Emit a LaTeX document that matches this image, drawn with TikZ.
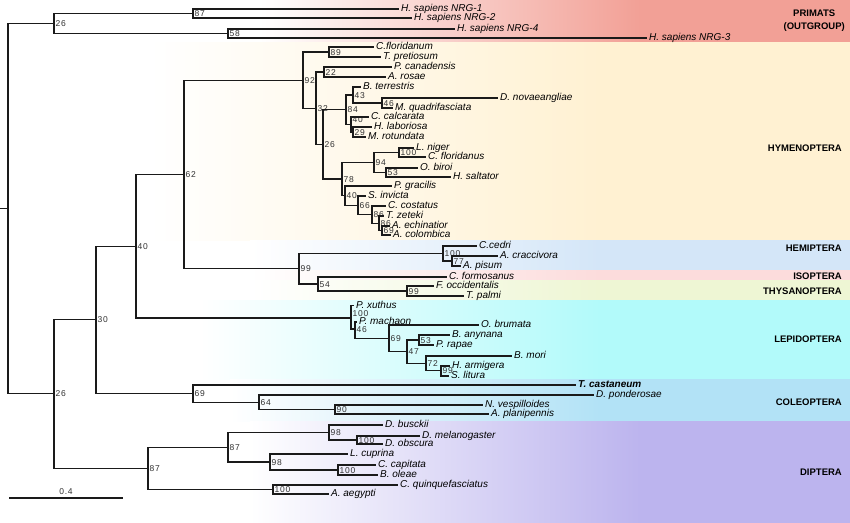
\documentclass[tikz,border=0pt]{standalone}
\usepackage{fontspec}
\setmainfont{Liberation Sans}
\newfontfamily\bsfont[LetterSpace=8]{Liberation Sans}

\definecolor{primats}{HTML}{F2A096}
\definecolor{hymeno}{HTML}{FFF1D2}
\definecolor{hemi}{HTML}{D4E6F8}
\definecolor{iso}{HTML}{FCDCDC}
\definecolor{thysa}{HTML}{EEF6D4}
\definecolor{lepido}{HTML}{B2FAFA}
\definecolor{coleo}{HTML}{B2E2F6}
\definecolor{diptera}{HTML}{BCB4EE}
\definecolor{treeline}{HTML}{1A1A1A}

\tikzset{
  leaf/.style={anchor=west,inner sep=2pt,text height=7pt,text depth=2pt,
    font=\fontsize{10}{11}\selectfont\itshape},
  boot/.style={anchor=west,inner sep=1.5pt,text height=6pt,text depth=0pt,
    font=\fontsize{8.5}{9}\bsfont,text=black!80},
  order/.style={anchor=east,inner sep=0pt,align=center,
    font=\fontsize{9.5}{13}\selectfont\bfseries},
  branch/.style={to path={|- (\tikztotarget)}}
}

\begin{document}
\begin{tikzpicture}[x=1pt,y=-1pt]
\useasboundingbox (0,0) rectangle (850,522);

% coloured bands of the orders
\shade[left color=white,right color=primats] (260,-1) rectangle (640,42);
\fill[primats] (639,-1) rectangle (852,42);
\shade[left color=white,right color=hymeno] (150,42) rectangle (600,240);
\fill[hymeno] (599,42) rectangle (852,240);
\shade[left color=white,right color=hemi] (250,240) rectangle (600,270);
\fill[hemi] (599,240) rectangle (852,270);
\shade[left color=white,right color=iso] (250,270) rectangle (600,280);
\fill[iso] (599,270) rectangle (852,280);
\shade[left color=white,right color=thysa] (250,280) rectangle (600,300);
\fill[thysa] (599,280) rectangle (852,300);
\shade[left color=white,right color=lepido] (200,300) rectangle (600,379);
\fill[lepido] (599,300) rectangle (852,379);
\shade[left color=white,right color=coleo] (230,379) rectangle (600,421);
\fill[coleo] (599,379) rectangle (852,421);
\shade[left color=white,right color=diptera] (250,421) rectangle (640,524);
\fill[diptera] (639,421) rectangle (852,524);

\coordinate (stub) at (0,208.75);
\coordinate (root) at (8,208.75);
\coordinate (sb0) at (9,498);
\coordinate (sb1) at (123,498);

% inner nodes with their bootstrap values
\begin{scope}[every node/.style={boot}]
  \node (p26) at (54,23.5) {26};
  \node (p87) at (193,13.5) {87};
  \node (p58) at (228,33.5) {58};

  \node (n26) at (54,393.9) {26};
  \node (n30) at (96,319.8) {30};
  \node (n40) at (136,246.1) {40};
  \node (n62) at (184,174.25) {62};

  \node (h92) at (303,80.1) {92};
  \node (h89) at (329,52) {89};
  \node (h32) at (316,108.25) {32};
  \node (h22) at (324,72) {22};
  \node (h26) at (323,144.5) {26};
  \node (h84) at (346,109.75) {84};
  \node (h43) at (353,95) {43};
  \node (h46) at (382,103) {46};
  \node[anchor=south west] (h40) at (351,124.5) {40};
  \node (h29) at (353,132) {29};
  \node (h78) at (342,179) {78};
  \node (h94) at (374,162.5) {94};
  \node (h100) at (399,152.5) {100};
  \node (h53) at (386,172.5) {53};
  \node (h40b) at (345,195.6) {40};
  \node (h66) at (358,205.25) {66};
  \node (h86a) at (372,214.5) {86};
  \node (h86b) at (379,223.25) {86};
  \node (h69) at (382,230.5) {69};

  \node (m99) at (299,268.75) {99};
  \node (m100) at (443,253.5) {100};
  \node (m77) at (452,261) {77};
  \node (m54) at (318,284) {54};
  \node (m99b) at (407,291) {99};

  \node[anchor=south west] (l100) at (351,318) {100};
  \node (l46) at (355,329) {46};
  \node (l69) at (389,338.25) {69};
  \node (l47) at (407,351.5) {47};
  \node (l53) at (419,340) {53};
  \node (l72) at (426,363.25) {72};
  \node (l99) at (441,370.5) {99};

  \node (c69) at (193,393.5) {69};
  \node (c64) at (259,402.25) {64};
  \node (c90) at (335,409.5) {90};

  \node (d87) at (148,468.25) {87};
  \node (d87b) at (228,447.25) {87};
  \node (d98a) at (329,432.5) {98};
  \node (d100a) at (357,440) {100};
  \node (d98b) at (270,462) {98};
  \node (d100b) at (338,470) {100};
  \node (d100c) at (273,489.5) {100};

  \node[anchor=south] (sbl) at (66,496.5) {0.4};
\end{scope}

% species
\begin{scope}[every node/.style={leaf}]
  \node (nrg1) at (399,9) {H. sapiens NRG-1};
  \node (nrg2) at (412,18) {H. sapiens NRG-2};
  \node (nrg4) at (455,29) {H. sapiens NRG-4};
  \node (nrg3) at (647,38) {H. sapiens NRG-3};

  \node (cflm) at (374,47) {C.floridanum};
  \node (tpre) at (381,57) {T. pretiosum};
  \node (pcan) at (392,67) {P. canadensis};
  \node (aros) at (386,77) {A. rosae};
  \node (bter) at (361,87) {B. terrestris};
  \node (dnov) at (498,98) {D. novaeangliae};
  \node (mqua) at (393,108) {M. quadrifasciata};
  \node (ccal) at (369,117) {C. calcarata};
  \node (hlab) at (372,127) {H. laboriosa};
  \node (mrot) at (366,137) {M. rotundata};
  \node (lnig) at (414,148) {L. niger};
  \node (cflu) at (426,157) {C. floridanus};
  \node (obir) at (418,168) {O. biroi};
  \node (hsal) at (451,177) {H. saltator};
  \node (pgra) at (392,186) {P. gracilis};
  \node (sinv) at (366,196) {S. invicta};
  \node (ccos) at (386,206) {C. costatus};
  \node (tzet) at (384,216) {T. zeteki};
  \node (aech) at (390,226) {A. echinatior};
  \node (acol) at (391,235) {A. colombica};

  \node (cced) at (477,246) {C.cedri};
  \node (acra) at (498,256) {A. craccivora};
  \node (apis) at (461,266) {A. pisum};
  \node (cfor) at (447,277) {C. formosanus};
  \node (focc) at (434,286) {F. occidentalis};
  \node (tpal) at (464,296) {T. palmi};

  \node (pxut) at (354,305.5) {P. xuthus};
  \node (pmac) at (357,322) {P. machaon};
  \node (obru) at (479,325) {O. brumata};
  \node (bany) at (450,335) {B. anynana};
  \node (prap) at (434,345) {P. rapae};
  \node (bmor) at (512,356) {B. mori};
  \node (harm) at (450,366) {H. armigera};
  \node (slit) at (449,376) {S. litura};

  \node[font=\fontsize{10}{11}\selectfont\bfseries\itshape] (tcas) at (576,385) {T. castaneum};
  \node (dpon) at (594,395) {D. ponderosae};
  \node (nves) at (483,405) {N. vespilloides};
  \node (apla) at (489,414) {A. planipennis};

  \node (dbus) at (383,425) {D. busckii};
  \node (dmel) at (420,436) {D. melanogaster};
  \node (dobs) at (383,444) {D. obscura};
  \node (lcup) at (348,454) {L. cuprina};
  \node (ccap) at (376,465) {C. capitata};
  \node (bole) at (378,475) {B. oleae};
  \node (cqui) at (398,485) {C. quinquefasciatus};
  \node (aaeg) at (329,494) {A. aegypti};
\end{scope}

% orders
\node[order] (prim) at (845,21) {PRIMATS\\(OUTGROUP)};
\node[order] (hym) at (842,148) {HYMENOPTERA};
\node[order] (hem) at (842,248) {HEMIPTERA};
\node[order] (iso) at (842,276) {ISOPTERA};
\node[order] (thy) at (842,291) {THYSANOPTERA};
\node[order] (lep) at (842,339) {LEPIDOPTERA};
\node[order] (col) at (842,402) {COLEOPTERA};
\node[order] (dip) at (842,472) {DIPTERA};

% branches
\begin{scope}[treeline,line width=1.15pt,every edge/.style={draw,branch}]
  \draw (stub) -- (root);
  \draw (sb0) -- (sb1);
  \path (root) edge (p26.west);
  \path (root) edge (n26.west);
  \path (p26.west) edge (p87.west);
  \path (p26.west) edge (p58.west);
  \path (p87.west) edge (nrg1.west);
  \path (p87.west) edge (nrg2.west);
  \path (p58.west) edge (nrg4.west);
  \path (p58.west) edge (nrg3.west);

  \path (n26.west) edge (n30.west);
  \path (n26.west) edge (d87.west);
  \path (n30.west) edge (n40.west);
  \path (n30.west) edge (c69.west);
  \path (n40.west) edge (n62.west);
  \path (n40.west) edge (l100.south west);
  \path (n62.west) edge (h92.west);
  \path (n62.west) edge (m99.west);

  \path (h92.west) edge (h89.west);
  \path (h92.west) edge (h32.west);
  \path (h89.west) edge (cflm.west);
  \path (h89.west) edge (tpre.west);
  \path (h32.west) edge (h22.west);
  \path (h32.west) edge (h26.west);
  \path (h22.west) edge (pcan.west);
  \path (h22.west) edge (aros.west);
  \path (h26.west) edge (h84.west);
  \path (h26.west) edge (h78.west);
  \path (h84.west) edge (h43.west);
  \path (h84.west) edge (h40.south west);
  \path (h43.west) edge (bter.west);
  \path (h43.west) edge (h46.west);
  \path (h46.west) edge (dnov.west);
  \path (h46.west) edge (mqua.west);
  \path (h40.south west) edge (ccal.west);
  \path (h40.south west) edge (h29.west);
  \path (h29.west) edge (hlab.west);
  \path (h29.west) edge (mrot.west);
  \path (h78.west) edge (h94.west);
  \path (h78.west) edge (h40b.west);
  \path (h94.west) edge (h100.west);
  \path (h94.west) edge (h53.west);
  \path (h100.west) edge (lnig.west);
  \path (h100.west) edge (cflu.west);
  \path (h53.west) edge (obir.west);
  \path (h53.west) edge (hsal.west);
  \path (h40b.west) edge (pgra.west);
  \path (h40b.west) edge (h66.west);
  \path (h66.west) edge (sinv.west);
  \path (h66.west) edge (h86a.west);
  \path (h86a.west) edge (ccos.west);
  \path (h86a.west) edge (h86b.west);
  \path (h86b.west) edge (tzet.west);
  \path (h86b.west) edge (h69.west);
  \path (h69.west) edge (aech.west);
  \path (h69.west) edge (acol.west);

  \path (m99.west) edge (m100.west);
  \path (m99.west) edge (m54.west);
  \path (m100.west) edge (cced.west);
  \path (m100.west) edge (m77.west);
  \path (m77.west) edge (acra.west);
  \path (m77.west) edge (apis.west);
  \path (m54.west) edge (cfor.west);
  \path (m54.west) edge (m99b.west);
  \path (m99b.west) edge (focc.west);
  \path (m99b.west) edge (tpal.west);

  \path (l100.south west) edge (pxut.west);
  \path (l100.south west) edge (l46.west);
  \path (l46.west) edge (pmac.west);
  \path (l46.west) edge (l69.west);
  \path (l69.west) edge (obru.west);
  \path (l69.west) edge (l47.west);
  \path (l47.west) edge (l53.west);
  \path (l47.west) edge (l72.west);
  \path (l53.west) edge (bany.west);
  \path (l53.west) edge (prap.west);
  \path (l72.west) edge (bmor.west);
  \path (l72.west) edge (l99.west);
  \path (l99.west) edge (harm.west);
  \path (l99.west) edge (slit.west);

  \path (c69.west) edge (tcas.west);
  \path (c69.west) edge (c64.west);
  \path (c64.west) edge (dpon.west);
  \path (c64.west) edge (c90.west);
  \path (c90.west) edge (nves.west);
  \path (c90.west) edge (apla.west);

  \path (d87.west) edge (d87b.west);
  \path (d87.west) edge (d100c.west);
  \path (d87b.west) edge (d98a.west);
  \path (d87b.west) edge (d98b.west);
  \path (d98a.west) edge (dbus.west);
  \path (d98a.west) edge (d100a.west);
  \path (d100a.west) edge (dmel.west);
  \path (d100a.west) edge (dobs.west);
  \path (d98b.west) edge (lcup.west);
  \path (d98b.west) edge (d100b.west);
  \path (d100b.west) edge (ccap.west);
  \path (d100b.west) edge (bole.west);
  \path (d100c.west) edge (cqui.west);
  \path (d100c.west) edge (aaeg.west);
\end{scope}
\end{tikzpicture}
\end{document}
